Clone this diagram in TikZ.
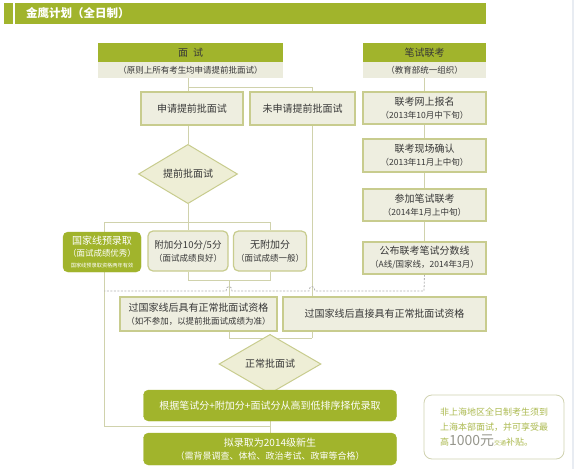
\documentclass[tikz,border=0pt]{standalone}
\usepackage{fontspec}
\setmainfont{Noto Sans CJK SC}
\usetikzlibrary{shapes.geometric}
\definecolor{olive}{RGB}{161,180,44}
\definecolor{subfill}{RGB}{236,236,221}
\definecolor{boxfill}{RGB}{238,238,224}
\definecolor{boxline}{RGB}{200,204,142}
\definecolor{diafill}{RGB}{238,238,214}
\definecolor{lncol}{RGB}{208,210,172}
\definecolor{dashcol}{RGB}{178,178,178}
\definecolor{txt}{RGB}{55,55,55}
\definecolor{notetxt}{RGB}{172,186,80}
\definecolor{notebd}{RGB}{208,210,176}
\definecolor{notebig}{RGB}{150,150,140}
\definecolor{edgecol}{RGB}{232,236,242}
\newcommand{\smtxt}[1]{{\fontsize{8.5}{11}\selectfont #1}}
\pgfdeclarelayer{bg}
\pgfsetlayers{bg,main}
\tikzset{
  sz/.style 2 args={minimum width=#1pt, minimum height=#2pt},
  ln/.style={draw=lncol, line width=1pt},
  dsh/.style={draw=dashcol, line width=0.8pt, dash pattern=on 2pt off 1.5pt},
  pbox/.style={rectangle, fill=boxfill, draw=boxline, line width=1.2pt, inner sep=0pt, align=center, text=txt, font=\fontsize{10}{13}\selectfont},
  rbox/.style={pbox, rounded corners=5pt},
  gbox/.style={rectangle, rounded corners=5pt, fill=olive, draw=olive, inner sep=0pt, align=center, text=white, font=\fontsize{10}{13}\selectfont},
  dia/.style={diamond, fill=diafill, draw=boxline, line width=1pt, inner sep=0pt, text=txt, font=\fontsize{10}{12}\selectfont},
  hd/.style={rectangle, fill=olive, inner sep=0pt, text=txt, font=\fontsize{10}{12}\selectfont},
  hs/.style={rectangle, fill=subfill, inner sep=0pt, text=txt, font=\fontsize{8.5}{10}\selectfont}
}
\begin{document}
\begin{tikzpicture}[x=1pt,y=-1pt]
\useasboundingbox (0,0) rectangle (574,469);
% title bar
\fill[olive] (4,3) rectangle (13,24);
\fill[olive] (15,3) rectangle (486,24);
\node[anchor=west, text=white, inner sep=0pt, font=\bfseries\fontsize{11.5}{13}\selectfont] (title) at (26,13.5) {金鹰计划（全日制）};
% headers
\node[hd, sz={185}{19}] (msHead) at (190.5,52.5) {面\hspace{5pt}试};
\node[hs, sz={185}{16}] (msSub) at (190.5,70) {（原则上所有考生均申请提前批面试）};
\node[hd, sz={123}{19}] (bkHead) at (424.5,52.5) {笔试联考};
\node[hs, sz={123}{16}] (bkSub) at (424.5,70) {（教育部统一组织）};
% left flow
\node[pbox, sz={102}{33}] (apply) at (192,108.5) {申请提前批面试};
\node[pbox, sz={105}{33}] (noapply) at (302.5,108.5) {未申请提前批面试};
\node[dia, sz={99}{38}] (diaA) at (188,174) {提前批面试};
\node[gbox, sz={78}{40}] (pre) at (102,252) {国家线预录取\\[-1pt] {\fontsize{8.5}{11}\selectfont （面试成绩优秀）}\\[-2pt] {\fontsize{5.2}{7}\selectfont 国家线预录取资格两年有效}};
\node[rbox, sz={80}{40}] (bonus) at (188,251) {{\fontsize{9.5}{12}\selectfont 附加分10分/5分}\\ \smtxt{（面试成绩良好）}};
\node[rbox, sz={73}{40}] (nobonus) at (270,251) {无附加分\\ \smtxt{（面试成绩一般）}};
\node[pbox, sz={157}{34}] (q1) at (198.5,314) {过国家线后具有正常批面试资格\\ \smtxt{（如不参加，以提前批面试成绩为准）}};
\node[pbox, sz={203}{34}] (q2) at (384.5,314) {过国家线后直接具有正常批面试资格};
\node[dia, sz={102}{38}] (diaB) at (270,364) {正常批面试};
\node[gbox, sz={253}{31}] (rank) at (270,405.5) {根据笔试分+附加分+面试分从高到低排序择优录取};
\node[gbox, sz={253}{32}] (admit) at (270,449) {拟录取为2014级新生\\ {\fontsize{9}{11}\selectfont （需背景调查、体检、政治考试、政审等合格）}};
% right flow
\node[pbox, sz={123}{32}] (r1) at (424.5,108) {联考网上报名\\ \smtxt{（2013年10月中下旬）}};
\node[pbox, sz={123}{33}] (r2) at (424.5,155.5) {联考现场确认\\ \smtxt{（2013年11月上中旬）}};
\node[pbox, sz={123}{32}] (r3) at (424.5,205) {参加笔试联考\\ \smtxt{（2014年1月上中旬）}};
\node[pbox, sz={123}{32}] (r4) at (424.5,258) {公布联考笔试分数线\\ \smtxt{（A线/国家线，2014年3月）}};
% note
\node[draw=notebd, rounded corners=8pt, line width=0.8pt, sz={140}{64}, align=left, text=notetxt, inner sep=0pt, font=\fontsize{9}{15}\selectfont] (note) at (494,427) {非上海地区全日制考生须到\\上海本部面试，并可享受最\\高{\fontsize{14}{15}\selectfont\color{notebig}1000元}{\fontsize{6}{6}\selectfont 交通}补贴。};
% connectors
\begin{pgfonlayer}{bg}
\fill[white] (0,0) rectangle (574,469);
\fill[edgecol] (571.5,0) rectangle (574,469);
\coordinate (j1) at (188,87);
\coordinate (j1r) at (312,87);
\draw[ln] (msSub.south -| j1) -- (apply.north -| j1);
\draw[ln] (j1) -- (j1r) -- (noapply.north -| j1r);
\draw[ln] (apply.south -| j1) -- (diaA.north);
\coordinate (busL) at (104,222);
\coordinate (busR) at (270,222);
\draw[ln] (diaA.south) -- (bonus.north);
\draw[ln] (busL) -- (busR) -- (nobonus.north);
\coordinate (lowL) at (104,426);
\draw[ln] (busL) -- (lowL) -- (lowL -| admit.north);
\coordinate (m1) at (188,280);
\coordinate (m2) at (270,280);
\coordinate (m3) at (229,280);
\coordinate (n1) at (229,338);
\coordinate (n2) at (312,338);
\draw[ln] (bonus.south) -- (m1) -- (m2) -- (nobonus.south);
\draw[ln] (m3) -- (n1) -- (n2);
\draw[ln] (noapply.south -| n2) -- (n2);
\draw[ln] (n1 -| diaB.north) -- (diaB.north);
\draw[ln] (diaB.south) -- (rank.north);
\draw[ln] (rank.south) -- (admit.north);
\draw[ln] (bkSub.south) -- (r1.north);
\draw[ln] (r1.south) -- (r2.north);
\draw[ln] (r2.south) -- (r3.north);
\draw[ln] (r3.south) -- (r4.north);
\coordinate (dR) at (424,291);
\draw[dsh] (r4.south) -- (dR) -- (315,291) .. controls (315,285) and (309,285) .. (309,291) -- (232,291) .. controls (232,285) and (226,285) .. (226,291) -- (busL |- dR);
\end{pgfonlayer}
\end{tikzpicture}
\end{document}
